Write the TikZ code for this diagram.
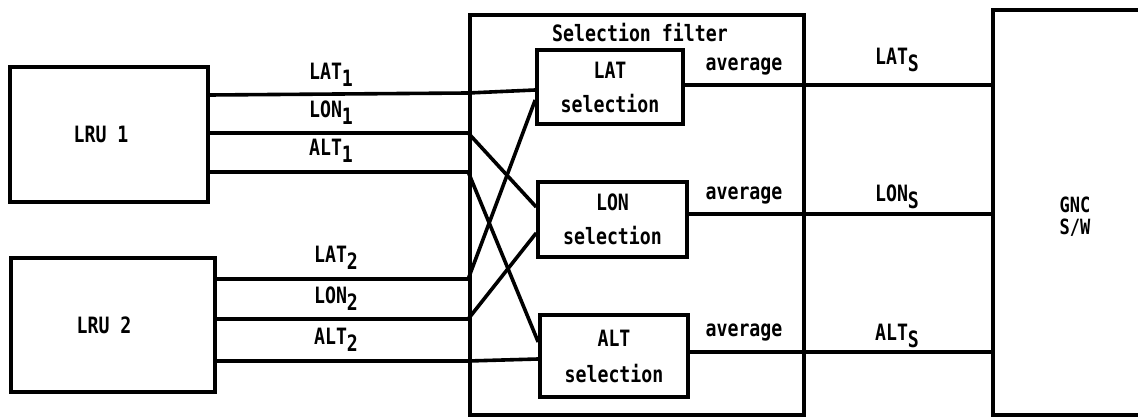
\documentclass[tikz,border=0pt]{standalone}
\usepackage{fontspec}
\setmainfont[FakeStretch=0.81,BoldFont={DejaVu Sans Mono Bold}]{DejaVu Sans Mono}
\newcommand{\lsub}[1]{\raisebox{-7pt}{#1}}
\begin{document}
\begin{tikzpicture}[x=1pt,y=-1pt,
  every node/.style={font=\bfseries\fontsize{22.5}{23}\selectfont},
  box/.style={draw,line width=3.6pt,inner sep=0pt},
  wire/.style={line width=3.6pt},
  lbl/.style={inner sep=0pt}]
\useasboundingbox (0,0) rectangle (1138,419);
% frames
\node[box,minimum width=198pt,minimum height=135pt] (lru1) at (109,134.5) {};
\node[lbl] at (101,134) {LRU 1};
\node[box,minimum width=204pt,minimum height=134pt] (lru2) at (113,325) {};
\node[lbl] at (104,325) {LRU 2};
\node[box,minimum width=334pt,minimum height=400pt] (filter) at (637,215) {};
\node[lbl] at (640,33) {Selection filter};
\node[box,minimum width=146pt,minimum height=74pt,align=center,
  font=\bfseries\fontsize{22.5}{34}\selectfont] (latsel) at (610,87) {LAT\\selection};
\node[box,minimum width=149pt,minimum height=75pt,align=center,
  font=\bfseries\fontsize{22.5}{34}\selectfont] (lonsel) at (612.5,219.5) {LON\\selection};
\node[box,minimum width=148pt,minimum height=82pt,align=center,
  font=\bfseries\fontsize{22.5}{36}\selectfont] (altsel) at (614,356) {ALT\\selection};
% GNC box (open to the right edge)
\draw[line width=3.6pt] (1140,10) -- (993,10) -- (993,415) -- (1140,415);
\node[lbl,minimum width=145pt,minimum height=405pt] (gnc) at (1065.5,212.5) {};
\node[lbl,align=center,font=\bfseries\fontsize{21}{22}\selectfont] at (1075,217) {GNC\\S/W};
% entry points on filter edge
\coordinate (p1) at (filter.west |- 0,93);
\coordinate (p2) at (filter.west |- 0,133);
\coordinate (p3) at (filter.west |- 0,172);
\coordinate (p4) at (filter.west |- 0,279);
\coordinate (p5) at (filter.west |- 0,319);
\coordinate (p6) at (filter.west |- 0,361);
% input wires
\draw[wire] (lru1.east |- 0,95) -- (p1) -- ([yshift=-3pt]latsel.west);
\draw[wire] (lru1.east |- p2) -- (p2) -- ([yshift=12.5pt]lonsel.west);
\draw[wire] (lru1.east |- p3) -- (p3) -- ([yshift=14pt]altsel.west);
\draw[wire] (lru2.east |- p4) -- (p4) -- ([yshift=-13pt]latsel.west);
\draw[wire] (lru2.east |- p5) -- (p5) -- ([yshift=-13.5pt]lonsel.west);
\draw[wire] (lru2.east |- p6) -- (p6) -- ([yshift=-3pt]altsel.west);
% input labels
\node[lbl] at (331,75) {LAT\lsub{1}};
\node[lbl] at (331,113) {LON\lsub{1}};
\node[lbl] at (331,151) {ALT\lsub{1}};
\node[lbl] at (336,258) {LAT\lsub{2}};
\node[lbl] at (336,299) {LON\lsub{2}};
\node[lbl] at (336,340) {ALT\lsub{2}};
% output wires
\draw[wire] ([yshift=2pt]latsel.east) -- ([yshift=2pt]latsel.east -| gnc.west);
\draw[wire] ([yshift=5.5pt]lonsel.east) -- ([yshift=5.5pt]lonsel.east -| gnc.west);
\draw[wire] ([yshift=4pt]altsel.east) -- ([yshift=4pt]altsel.east -| gnc.west);
\node[lbl] at (744,67) {average};
\node[lbl] at (744,196) {average};
\node[lbl] at (744,333) {average};
\node[lbl] at (897,60) {LAT\lsub{S}};
\node[lbl] at (897,197) {LON\lsub{S}};
\node[lbl] at (897,336) {ALT\lsub{S}};
\end{tikzpicture}
\end{document}
